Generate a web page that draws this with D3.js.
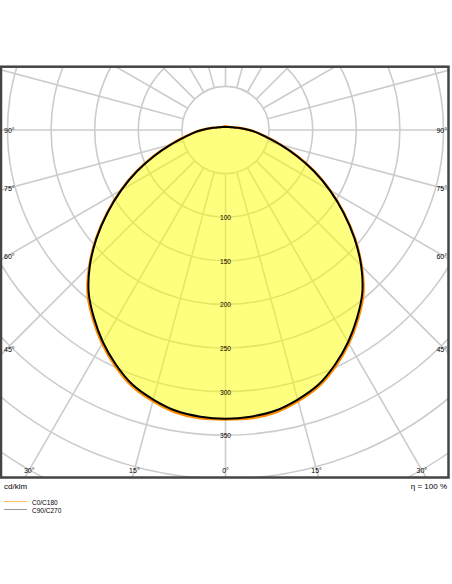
<!DOCTYPE html>
<html>
<head>
<meta charset="utf-8">
<script src="https://cdn.jsdelivr.net/npm/d3@7"></script>
<style>
  html, body { margin: 0; padding: 0; background: #ffffff; }
  svg { display: block; font-family: "Liberation Sans", Arial, sans-serif; }
</style>
</head>
<body>
<svg id="chart" width="452" height="584"></svg>
<script>
// ---- data ----
const gammaAngles = [0,5,10,15,20,25,30,35,40,45,50,55,60,65,70,75,80,85,90,100,110,120,135,150,165,180];
const c0c180   = [332,332,329,322,313,299,283,265,246,221,194,166,139,113,88,66,49,37,27,14.5,9,6.5,5,4.5,4.5,4.5];
const c90c270  = [331,330,327,320,311,297,281,263,244,220,193,165,138,112,87,65,48,37,27,14.5,9,6.5,5,4,3.5,3.5];
const ringValues = [50,100,150,200,250,300,350,400,450,500,550,600];
const ringLabels = ["100","150","200","250","300","350"];
const spokeAngles = d3.range(0, 360, 15);
const sideAngleLabels = [90,75,60,45];
const bottomAngleLabels = [30,15,0];
const seriesNames = ["C0/C180","C90/C270"];
const unitLabel = "cd/klm";
const efficiencyLabel = "η = 100 %";

// ---- layout ----
const svg = d3.select("#chart");
const frame = {x0: 1, y0: 66.7, x1: 448.5, y1: 477.5};
const cx = 225.5, cy = 130;
const r = d3.scaleLinear().domain([0, 350]).range([0, 305.2]);
const gridColor = "#cccccc";

const defs = svg.append("defs");
defs.append("clipPath").attr("id","frameClip")
  .append("rect").attr("x",frame.x0).attr("y",frame.y0)
  .attr("width",frame.x1-frame.x0).attr("height",frame.y1-frame.y0);

const plot = svg.append("g").attr("clip-path","url(#frameClip)");
const g = plot.append("g").attr("transform",`translate(${cx},${cy})`);

const toRad = d => d * Math.PI / 180;

// grid rings
g.selectAll("circle.ring").data(ringValues).join("circle")
  .attr("class","ring").attr("r", d => r(d))
  .attr("fill","none").attr("stroke",gridColor).attr("stroke-width",1.6);

// spokes
g.selectAll("line.spoke").data(spokeAngles).join("line")
  .attr("class","spoke")
  .attr("x1", d => r(50) * Math.sin(toRad(d)))
  .attr("y1", d => r(50) * Math.cos(toRad(d)))
  .attr("x2", d => r(800) * Math.sin(toRad(d)))
  .attr("y2", d => r(800) * Math.cos(toRad(d)))
  .attr("stroke",gridColor).attr("stroke-width",1.6);

// closed radial path: right half gamma 0..180, left half 180..0
function pts(vals) {
  const right = gammaAngles.map((a,i) => [Math.PI - toRad(a), r(vals[i])]);
  const left = gammaAngles.slice(1, -1).reverse().map(a => {
    const i = gammaAngles.indexOf(a);
    return [Math.PI + toRad(a), r(vals[i])];
  });
  return right.concat(left);
}
const radial = d3.lineRadial().angle(d => d[0]).radius(d => d[1]).curve(d3.curveCatmullRomClosed.alpha(0.5));

// fill
g.append("path").attr("d", radial(pts(c0c180)))
  .attr("fill","#ffff00").attr("fill-opacity",0.5).attr("stroke","none");

// curves
g.append("path").attr("d", radial(pts(c0c180)))
  .attr("fill","none").attr("stroke","#ff8c00").attr("stroke-width",2.4);
g.append("path").attr("d", radial(pts(c90c270)))
  .attr("fill","none").attr("stroke","#000000").attr("stroke-width",2);

// ring value labels
svg.selectAll("text.rl").data(ringLabels).join("text")
  .attr("class","rl")
  .attr("x", cx).attr("y", d => cy + r(+d) + 0.5)
  .attr("text-anchor","middle").attr("dominant-baseline","central")
  .attr("font-size",6.6).attr("fill","#000").text(d => d);

// side angle labels
const inset = 6;
sideAngleLabels.forEach(a => {
  const t = Math.cos(toRad(a)) / Math.sin(toRad(a));
  const yL = cy + (cx - inset) * t;
  svg.append("text").attr("x", 4).attr("y", yL)
    .attr("text-anchor","start").attr("dominant-baseline","central")
    .attr("font-size",7).attr("fill","#000").text(a + "°");
  svg.append("text").attr("x", 447).attr("y", yL)
    .attr("text-anchor","end").attr("dominant-baseline","central")
    .attr("font-size",7).attr("fill","#000").text(a + "°");
});
const yB = 470;
bottomAngleLabels.forEach(a => {
  const dx = (yB - cy) * Math.tan(toRad(a));
  const xs = a === 0 ? [cx] : [cx - dx, cx + dx];
  xs.forEach(x => {
    svg.append("text").attr("x", x).attr("y", yB)
      .attr("text-anchor","middle").attr("dominant-baseline","central")
      .attr("font-size",7).attr("fill","#000").text(a + "°");
  });
});

// frame
svg.append("rect").attr("x",frame.x0).attr("y",frame.y0)
  .attr("width",frame.x1-frame.x0).attr("height",frame.y1-frame.y0)
  .attr("fill","none").attr("stroke","#444").attr("stroke-width",2.5);

// bottom texts
svg.append("text").attr("x",4).attr("y",486).attr("dominant-baseline","central")
  .attr("font-size",8).attr("fill","#000").text(unitLabel);
svg.append("text").attr("x",447).attr("y",486).attr("dominant-baseline","central")
  .attr("text-anchor","end").attr("font-size",8).attr("fill","#000").text(efficiencyLabel);

// legend
const legendColors = ["#ffb766","#999999"];
seriesNames.forEach((name,i) => {
  const y = 501.5 + i * 8;
  svg.append("line").attr("x1",4).attr("x2",27).attr("y1",y).attr("y2",y)
    .attr("stroke",legendColors[i]).attr("stroke-width",1);
  svg.append("text").attr("x",32).attr("y",y + 0.5).attr("dominant-baseline","central")
    .attr("font-size",6.5).attr("fill","#000").text(name);
});
</script>
</body>
</html>
